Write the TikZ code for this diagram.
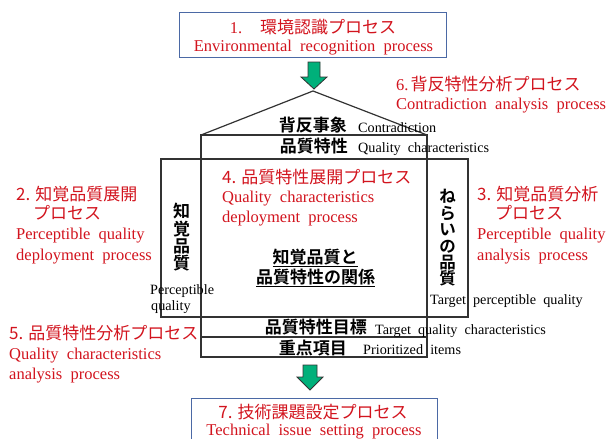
\documentclass[tikz,border=0pt]{standalone}
\usepackage{fontspec}
\setmainfont{Liberation Serif}[WordSpace=2]
\newfontfamily\jp{Noto Sans CJK JP}
\newfontfamily\jpb{Noto Sans CJK JP Bold}
\definecolor{myred}{RGB}{210,20,30}
\definecolor{boxblue}{RGB}{75,105,165}
\definecolor{arrgreen}{RGB}{0,176,122}
\definecolor{linegray}{RGB}{50,50,50}
\newcommand\jr[1]{{\jp\fontsize{17}{20}\selectfont #1}}
\tikzset{
  rl/.style={text=myred, inner sep=0pt, font=\fontsize{16.5}{20}\selectfont},
  rj/.style={text=myred, inner sep=0pt, font=\jp\fontsize{17}{20}\selectfont},
  bl/.style={text=black, inner sep=0pt, font=\fontsize{14.2}{17}\selectfont},
  bj/.style={text=black, inner sep=0pt, font=\jpb\fontsize{17}{20}\selectfont},
  frame/.style={draw=linegray, line width=1.2pt},
  procbox/.style={draw=boxblue, line width=1.3pt, inner sep=0pt},
  greenarrow/.style={fill=arrgreen, draw=linegray, line width=0.8pt, line join=miter},
}
\begin{document}
\begin{tikzpicture}[x=1pt,y=-1pt]
\useasboundingbox (0,0) rectangle (606,439);
\clip (0,0) rectangle (606,439);

% top process box
\node[procbox, anchor=north west, minimum width=267pt, minimum height=45pt] (topbox) at (179,12) {};
\node[rl, anchor=base] (t1a) at (313,33) {1.\hspace{18pt}\jr{環境認識プロセス}};
\node[rl, anchor=base] (t1b) at (313.5,51) {Environmental recognition process};

% top green arrow
\draw[greenarrow] (308,62) -- (320,62) -- (320,77) -- (327,77) -- (314,89) -- (301,77) -- (308,77) -- cycle;

% roof
\coordinate (apex) at (313,91);
\coordinate (roofL) at (201,135);
\coordinate (roofR) at (427,135);
\draw[frame] (roofL) -- (apex) -- (roofR);

% central column
\coordinate (cBL) at (201,357);
\coordinate (cBR) at (427,357);
\draw[frame] (roofL) rectangle (cBR);
\draw[frame] (161,159) -- (468,159);
\draw[frame] (161,317) -- (468,317);
\draw[frame] (201,337) -- (427,337);
% side boxes
\draw[frame] (161,159) rectangle (201,317);
\draw[frame] (427,159) rectangle (468,317);

% roof labels
\node[bj, anchor=base east] (l1j) at (347,131.5) {背反事象};
\node[bl, anchor=base west] (l1e) at (358,132.5) {Contradiction};
\node[bj, anchor=base east] (l2j) at (348,152.5) {品質特性};
\node[bl, anchor=base west] (l2e) at (358,152.5) {Quality characteristics};
\node[bj, anchor=base east] (l3j) at (367,333.5) {品質特性目標};
\node[bl, anchor=base west] (l3e) at (375,334) {Target quality characteristics};
\node[bj, anchor=base east] (l4j) at (347,354.5) {重点項目};
\node[bl, anchor=base west] (l4e) at (363,354.5) {Prioritized items};

% vertical labels
\node[text=black, inner sep=0pt, font=\jpb\fontsize{17}{17.3}\selectfont, align=center] (vl) at (181.5,237.5) {知\\覚\\品\\質};
\node[text=black, inner sep=0pt, font=\jpb\fontsize{16.5}{16.4}\selectfont, align=center] (vr) at (447.5,238) {ね\\ら\\い\\の\\品\\質};
\node[bl, anchor=base west] (pq1) at (150,294) {Perceptible};
\node[bl, anchor=base west] (pq2) at (151,310) {quality};
\node[bl, anchor=base west] (tpq) at (430,304.5) {Target perceptible quality};

% center relation
\node[bj, anchor=base] (rel1) at (315,263.5) {\underline{知覚品質と}};
\node[bj, anchor=base] (rel2) at (315.5,283.5) {\underline{品質特性の関係}};

% 4
\node[rj, anchor=base west] (p4a) at (222,183) {4. 品質特性展開プロセス};
\node[rl, anchor=base west] (p4b) at (222,202) {Quality characteristics};
\node[rl, anchor=base west] (p4c) at (222,222) {deployment process};

% 6
\node[rl, anchor=base west] (p6a) at (396,90) {6.\hspace{2pt}\jr{背反特性分析プロセス}};
\node[rl, anchor=base west] (p6b) at (396,109.5) {Contradiction analysis process};

% 2
\node[rj, anchor=base west] (p2a) at (16,200) {2. 知覚品質展開};
\node[rj, anchor=base west] (p2b) at (33,219) {プロセス};
\node[rl, anchor=base west] (p2c) at (16,239) {Perceptible quality};
\node[rl, anchor=base west] (p2d) at (16,260) {deployment process};

% 3
\node[rj, anchor=base west] (p3a) at (477,200) {3. 知覚品質分析};
\node[rj, anchor=base west] (p3b) at (495,219) {プロセス};
\node[rl, anchor=base west] (p3c) at (477,239) {Perceptible quality};
\node[rl, anchor=base west] (p3d) at (477,260) {analysis process};

% 5
\node[rj, anchor=base west] (p5a) at (9,339) {5. 品質特性分析プロセス};
\node[rl, anchor=base west] (p5b) at (9,359) {Quality characteristics};
\node[rl, anchor=base west] (p5c) at (9,379) {analysis process};

% bottom green arrow
\draw[greenarrow] (303,365) -- (317,365) -- (317,377) -- (323,377) -- (310,390) -- (297,377) -- (303,377) -- cycle;

% bottom process box
\node[procbox, anchor=north west, minimum width=246pt, minimum height=60pt] (botbox) at (191,398) {};
\node[rj, anchor=base] (t7a) at (313,418.5) {7. 技術課題設定プロセス};
\node[rl, anchor=base] (t7b) at (314,435.5) {Technical issue setting process};
\end{tikzpicture}
\end{document}
